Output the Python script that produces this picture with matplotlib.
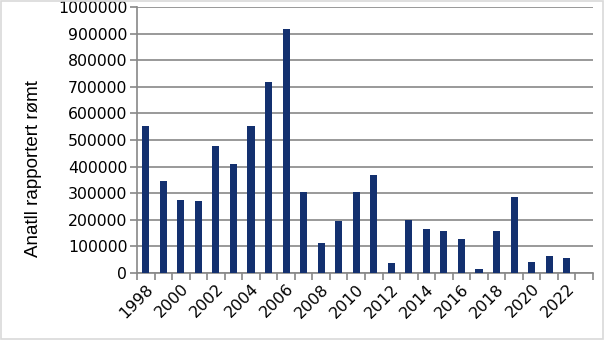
import matplotlib
matplotlib.use("Agg")
import matplotlib.pyplot as plt
from matplotlib.patches import Rectangle
import numpy as np

years = list(range(1998, 2024))
values = [552000, 346000, 274000, 271000, 477000, 410000, 552000, 718000, 917000,
          304000, 113000, 197000, 304000, 368000, 38000, 199000, 165000, 158000,
          128000, 15000, 158000, 286000, 41000, 64000, 56000, 0]
tick_labels = [str(y) if (y - 1998) % 2 == 0 and y <= 2022 else "" for y in years]
ylabel = "Anatll rapportert rømt"

fig = plt.figure(figsize=(6.05, 3.4), dpi=100)
fig.patches.append(Rectangle((0.002, 0.003), 0.995, 0.994, transform=fig.transFigure,
                             fill=False, edgecolor="#d9d9d9", linewidth=1.2))
ax = fig.add_axes([137/605, 1 - 273/340, (593-137)/605, (273-7)/340])

x = np.arange(len(years))
ax.bar(x, values, width=0.4, color="#13306f", zorder=3)
ax.set_xlim(-0.5, len(years) - 0.5)
ax.set_ylim(0, 1000000)
ax.set_yticks(np.arange(0, 1000001, 100000))
ax.set_yticklabels([str(v) for v in range(0, 1000001, 100000)], fontsize=11.3)
ax.yaxis.grid(True, color="#888888", linewidth=1.2, zorder=0)
ax.set_axisbelow(True)

ax.set_xticks(x)
ax.set_xticklabels(tick_labels, rotation=45, ha="right", rotation_mode="anchor", fontsize=11.5)
ax.set_xticks(np.arange(-0.5, len(years), 1), minor=True)
ax.tick_params(axis="x", which="major", length=0, pad=6)
ax.tick_params(axis="x", which="minor", length=5, color="#888888", width=1.2)
ax.tick_params(axis="y", length=5, color="#888888", width=1.2, pad=2)

for s in ["top", "right"]:
    ax.spines[s].set_visible(False)
for s in ["left", "bottom"]:
    ax.spines[s].set_color("#888888")
    ax.spines[s].set_linewidth(1.2)

ax.set_ylabel(ylabel, fontsize=13.5, family="Liberation Sans")
ax.yaxis.set_label_coords(-0.208, 0.391)

fig.savefig("out.png", dpi=100)
